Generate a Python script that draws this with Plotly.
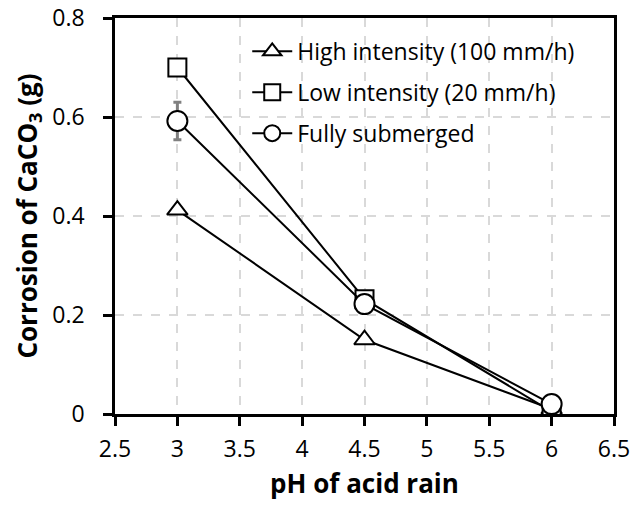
import plotly.graph_objects as go

ph = [3, 4.5, 6]
high = [0.412, 0.15, 0.01]
low = [0.70, 0.232, 0.005]
full = [0.592, 0.222, 0.02]
full_err = [0.038, 0, 0]

names = ["High intensity (100 mm/h)", "Low intensity (20 mm/h)", "Fully submerged"]
FONT = "Open Sans"

fig = go.Figure()
fig.add_trace(go.Scatter(x=ph, y=high, name=names[0], mode="lines+markers", legendgroup="a",
                         line=dict(color="black", width=2),
                         marker=dict(symbol="triangle-up", size=18, color="white",
                                     line=dict(color="black", width=2))))
fig.add_trace(go.Scatter(x=ph, y=low, name=names[1], mode="lines+markers", legendgroup="b",
                         line=dict(color="black", width=2),
                         marker=dict(symbol="square", size=18, color="white",
                                     line=dict(color="black", width=2))))
fig.add_trace(go.Scatter(x=ph, y=full, name=names[2], mode="lines+markers", legendgroup="c",
                         line=dict(color="black", width=2),
                         error_y=dict(type="data", array=full_err, visible=True,
                                      color="#808080", thickness=3, width=4),
                         marker=dict(symbol="circle", size=20, color="white",
                                     line=dict(color="black", width=2))))

axis_common = dict(showline=True, linecolor="black", linewidth=2.5, mirror=True,
                   ticks="outside", ticklen=9, tickwidth=2.5, tickcolor="black",
                   showgrid=True, gridcolor="#d9d9d9", griddash="dash", gridwidth=1.5,
                   zeroline=False, automargin=False,
                   tickfont=dict(family=FONT, size=23, color="black"))

fig.update_xaxes(range=[2.5, 6.5], dtick=0.5, tickformat="~g", ticklabelstandoff=4,
                 title=dict(text="<b>pH of acid rain</b>",
                            font=dict(family=FONT, size=26, color="black"), standoff=12),
                 **axis_common)
fig.update_yaxes(range=[0, 0.8], dtick=0.2, tickformat="~g", ticklabelstandoff=14,
                 title=dict(text="<b>Corrosion of CaCO<sub>3</sub> (g)</b>",
                            font=dict(family=FONT, size=26, color="black"), standoff=8),
                 **axis_common)

fig.update_layout(width=642, height=505,
                  margin=dict(l=115, r=28, t=18, b=91),
                  plot_bgcolor="white", paper_bgcolor="white",
                  font=dict(family=FONT, color="black"),
                  legend=dict(x=0.265, y=0.97, xanchor="left", yanchor="top",
                              bgcolor="rgba(0,0,0,0)", font=dict(family=FONT, size=23),
                              itemwidth=40, tracegroupgap=8))

fig.write_html("out.html")
